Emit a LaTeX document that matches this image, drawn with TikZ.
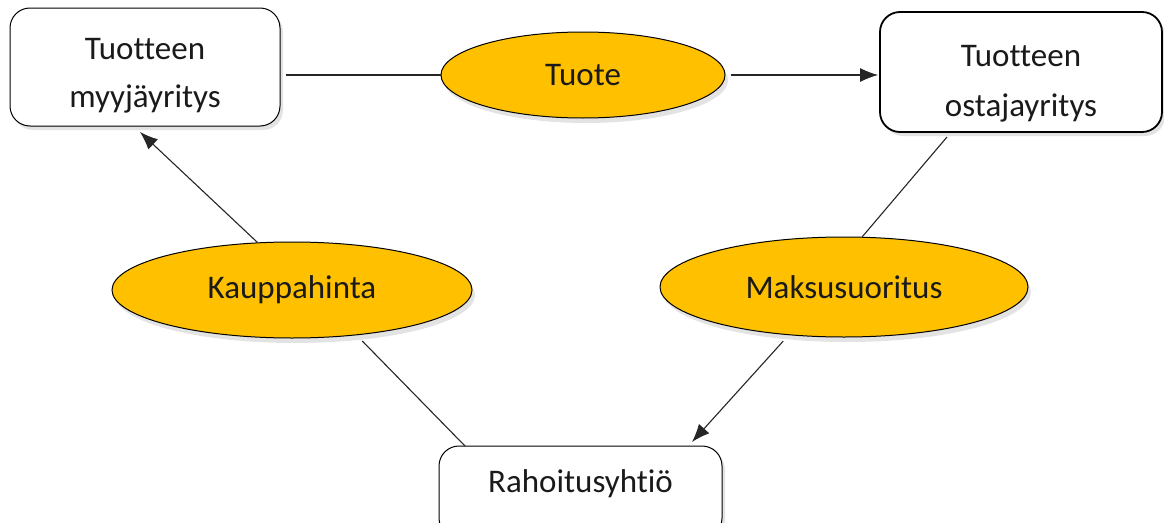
\documentclass[tikz,border=0pt]{standalone}
\usepackage{fontspec}
\setmainfont[Ligatures={NoCommon}]{Carlito}
\usetikzlibrary{shadows,arrows.meta,shapes.geometric}
\definecolor{gold}{HTML}{FFC000}
\definecolor{txt}{HTML}{1A1A1A}
\begin{document}
\begin{tikzpicture}[x=1pt,y=-1pt,
  every node/.style={font=\fontsize{33}{48}\selectfont, text=txt},
  card/.style={draw=black, line width=1pt, rounded corners=20pt, fill=white, align=center,
    inner sep=0pt, drop shadow={opacity=0.22, shadow xshift=3pt, shadow yshift=-4pt}},
  oval/.style={ellipse, draw=black, line width=1pt, fill=gold, inner sep=0pt,
    drop shadow={opacity=0.22, shadow xshift=3pt, shadow yshift=-5pt}},
  link/.style={draw=black!85, line width=1.1pt},
  tip/.style={-{Latex[length=18pt,width=14pt]}}
]
\useasboundingbox (0,0) rectangle (1164,522);
\fill[white] (0,0) rectangle (1164,522);

\node[card, minimum width=270pt, minimum height=118pt] (A) at (145,67)
  {\raisebox{-15pt}[0pt][0pt]{\parbox{220pt}{\centering\fontsize{33}{48}\selectfont Tuotteen\\myyjäyritys}}};
\node[card, line width=1.8pt, minimum width=282pt, minimum height=120pt] (B) at (1021,72)
  {\raisebox{-18pt}[0pt][0pt]{\parbox{220pt}{\centering\fontsize{33}{50}\selectfont Tuotteen\\ostajayritys}}};
\node[card, minimum width=283pt, minimum height=92pt, text height=10pt, text depth=10pt] (C) at (580.5,492)
  {Rahoitusyhtiö};

\node[oval, minimum width=284pt, minimum height=86pt] (tuote) at (583,75) {Tuote};
\node[oval, minimum width=360pt, minimum height=96pt] (kaup) at (292,290) {Kauppahinta};
\node[oval, minimum width=368pt, minimum height=100pt] (maks) at (844,287) {Maksusuoritus};

\coordinate (kA) at (140,132);
\coordinate (kC) at (465,446);
\coordinate (mB) at (947,137);
\coordinate (mC) at (692,442);

\draw[link, shorten <=5pt] (A.east |- tuote.west) -- (tuote.west);
\draw[link, tip, shorten <=5pt, shorten >=1pt] (tuote.east) -- (B.west |- tuote.east);
\draw[link, shorten <=8pt] (kaup.325) -- (kC);
\draw[link, tip] (kaup.126) -- (kA);
\draw[link] (mB) -- (maks.70);
\draw[link, tip, shorten <=8pt] (maks.221) -- (mC);
\end{tikzpicture}
\end{document}
